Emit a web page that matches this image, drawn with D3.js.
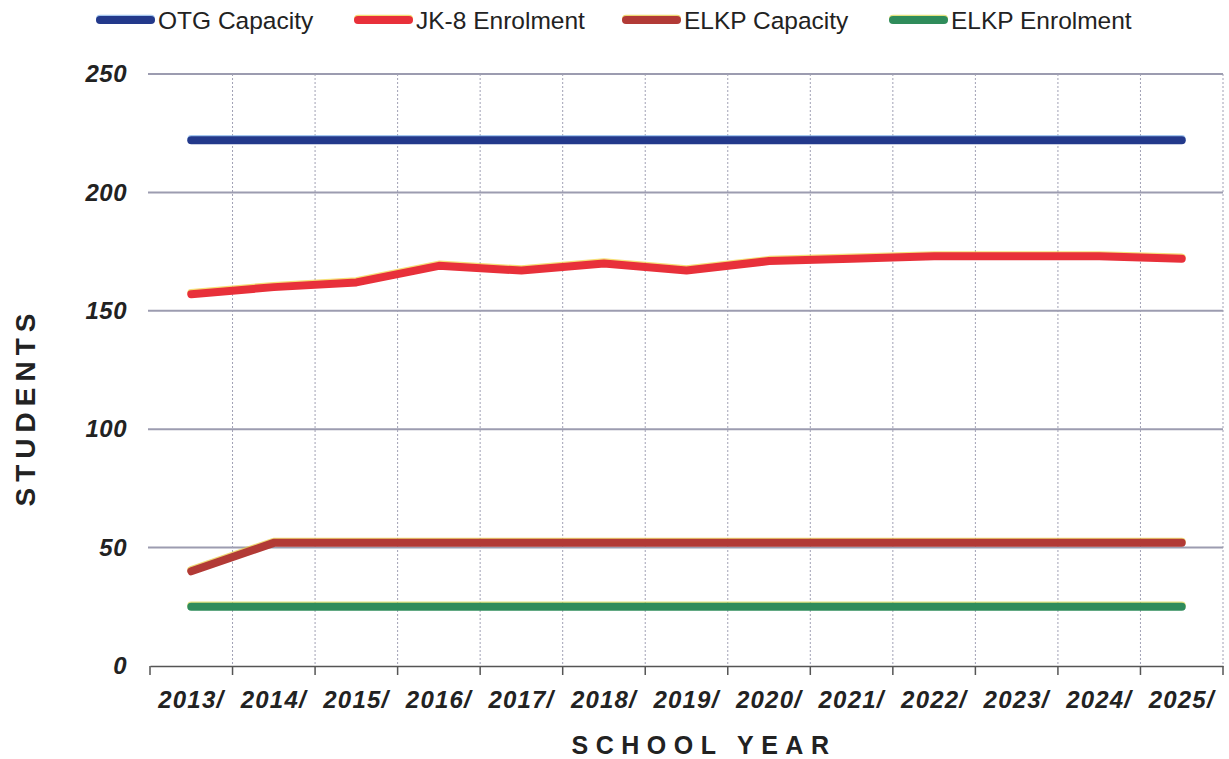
<!DOCTYPE html>
<html>
<head>
<meta charset="utf-8">
<script src="https://cdn.jsdelivr.net/npm/d3@7"></script>
<style>
  html, body { margin: 0; padding: 0; background: #ffffff; }
  svg { display: block; }
</style>
</head>
<body>
<svg id="chart" width="1229" height="759"></svg>
<script>
// ---- data ----
const categories = ["2013/", "2014/", "2015/", "2016/", "2017/", "2018/", "2019/", "2020/", "2021/", "2022/", "2023/", "2024/", "2025/"];
const otgCapacity   = [222, 222, 222, 222, 222, 222, 222, 222, 222, 222, 222, 222, 222];
const jk8Enrolment  = [157, 160, 162, 169, 167, 170, 167, 171, 172, 173, 173, 173, 172];
const elkpCapacity  = [40, 52, 52, 52, 52, 52, 52, 52, 52, 52, 52, 52, 52];
const elkpEnrolment = [25, 25, 25, 25, 25, 25, 25, 25, 25, 25, 25, 25, 25];
const yTicks = [0, 50, 100, 150, 200, 250];
const seriesNames = ["OTG Capacity", "JK-8 Enrolment", "ELKP Capacity", "ELKP Enrolment"];

const series = [
  { name: seriesNames[0], values: otgCapacity,   color: "#23398b", halo: "#7fb0e8" },
  { name: seriesNames[1], values: jk8Enrolment,  color: "#e8303a", halo: "#f2d23c" },
  { name: seriesNames[2], values: elkpCapacity,  color: "#b23a36", halo: "#e8c83a" },
  { name: seriesNames[3], values: elkpEnrolment, color: "#2f8c5b", halo: "#d8d84a" }
];

// ---- layout ----
const svg = d3.select("#chart");
const pL = 150, pR = 1223, pT = 74, pB = 666;

const x = d3.scaleBand().domain(categories).range([pL, pR]).padding(0);
const y = d3.scaleLinear().domain([0, 250]).range([pB, pT]);
const cx = d => x(d) + x.bandwidth() / 2;

// horizontal gridlines
svg.append("g").selectAll("line")
  .data(yTicks.filter(t => t > 0))
  .join("line")
  .attr("x1", pL - 2).attr("x2", pR)
  .attr("y1", d => y(d)).attr("y2", d => y(d))
  .attr("stroke", "#9c9cb0").attr("stroke-width", 2);

// vertical dotted gridlines at band boundaries
const boundaries = categories.map(c => x(c) + x.bandwidth());
svg.append("g").selectAll("line")
  .data(boundaries)
  .join("line")
  .attr("x1", d => d).attr("x2", d => d)
  .attr("y1", pT).attr("y2", pB)
  .attr("stroke", "#a0a0b4").attr("stroke-width", 1)
  .attr("stroke-dasharray", "2,2");

// x axis
const xAxis = d3.axisBottom(x).tickSize(0).tickPadding(0);
const gx = svg.append("g").attr("transform", `translate(0,${pB})`).call(xAxis);
gx.select(".domain").attr("stroke", "#555").attr("stroke-width", 1.5);
gx.selectAll(".tick text")
  .attr("y", 42)
  .attr("dy", 0)
  .attr("fill", "#222")
  .style("font-family", "'Liberation Sans', Arial, sans-serif")
  .style("font-size", "24px")
  .style("font-weight", "bold")
  .style("font-style", "italic")
  .style("letter-spacing", "1.2px");
// tick marks at boundaries
svg.append("g").selectAll("line")
  .data([pL].concat(boundaries))
  .join("line")
  .attr("x1", d => d).attr("x2", d => d)
  .attr("y1", pB).attr("y2", pB + 9)
  .attr("stroke", "#555").attr("stroke-width", 1.5);

// y axis labels
const yAxis = d3.axisLeft(y).tickValues(yTicks).tickSize(0).tickPadding(23);
const gy = svg.append("g").attr("transform", `translate(${pL},0)`).call(yAxis);
gy.select(".domain").remove();
gy.selectAll(".tick text")
  .attr("fill", "#222")
  .style("font-family", "'Liberation Sans', Arial, sans-serif")
  .style("font-size", "24px")
  .style("font-weight", "bold")
  .style("font-style", "italic")
  .style("letter-spacing", "0.5px");

// axis titles
svg.append("text")
  .attr("transform", `translate(35,407) rotate(-90)`)
  .attr("text-anchor", "middle")
  .attr("fill", "#222")
  .style("font-family", "'Liberation Sans', Arial, sans-serif")
  .style("font-size", "28px")
  .style("font-weight", "bold")
  .style("letter-spacing", "6px")
  .text("STUDENTS");

svg.append("text")
  .attr("x", 704).attr("y", 754)
  .attr("text-anchor", "middle")
  .attr("fill", "#222")
  .style("font-family", "'Liberation Sans', Arial, sans-serif")
  .style("font-size", "25px")
  .style("font-weight", "bold")
  .style("letter-spacing", "7.5px")
  .text("SCHOOL YEAR");

// lines
const line = d3.line()
  .x((d, i) => cx(categories[i]))
  .y(d => y(d));

const lg = svg.append("g");
series.forEach(s => {
  lg.append("path")
    .datum(s.values)
    .attr("d", line)
    .attr("transform", "translate(0,-1.2)")
    .attr("fill", "none")
    .attr("stroke", s.halo)
    .attr("stroke-width", 8)
    .attr("stroke-linecap", "round")
    .attr("stroke-linejoin", "round")
    .attr("opacity", 0.7);
  lg.append("path")
    .datum(s.values)
    .attr("d", line)
    .attr("fill", "none")
    .attr("stroke", s.color)
    .attr("stroke-width", 8)
    .attr("stroke-linecap", "round")
    .attr("stroke-linejoin", "round");
});

// legend
const legendX = [100, 358, 626, 893];
const legY = 20;
const leg = svg.append("g");
series.forEach((s, i) => {
  const g = leg.append("g").attr("transform", `translate(${legendX[i]},${legY})`);
  g.append("line").attr("x1", 0).attr("x2", 51).attr("y1", -1.2).attr("y2", -1.2)
    .attr("stroke", s.halo).attr("stroke-width", 8).attr("stroke-linecap", "round").attr("opacity", 0.7);
  g.append("line").attr("x1", 0).attr("x2", 51).attr("y1", 0).attr("y2", 0)
    .attr("stroke", s.color).attr("stroke-width", 8).attr("stroke-linecap", "round");
  g.append("text")
    .attr("x", 58).attr("y", 9)
    .attr("fill", "#222")
    .style("font-family", "'Liberation Sans', Arial, sans-serif")
    .style("font-size", "24.5px")
    .text(s.name);
});
</script>
</body>
</html>
